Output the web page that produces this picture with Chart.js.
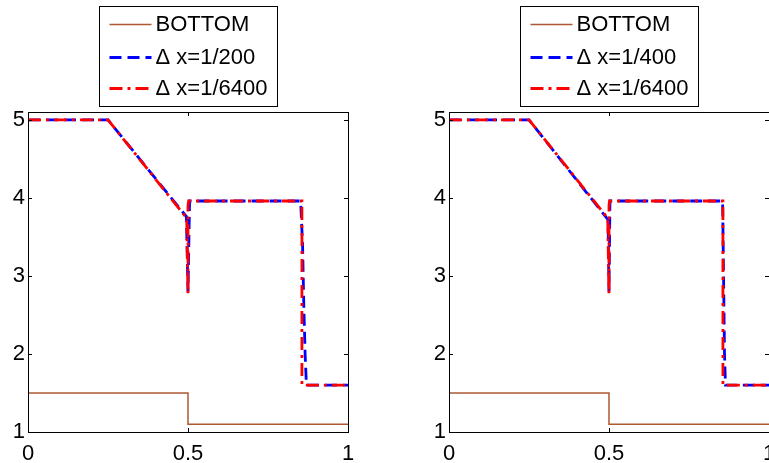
<!DOCTYPE html>
<html>
<head>
<meta charset="utf-8">
<script src="https://cdn.jsdelivr.net/npm/chart.js@4.4.1/dist/chart.umd.min.js"></script>
<style>
  html, body { margin: 0; padding: 0; background: #fff; overflow: hidden; }
  body { width: 769px; height: 463px; position: relative; }
  .panel { position: absolute; top: 0; width: 390px; height: 463px; }
  #left { left: 0; }
  #right { left: 421px; }
</style>
</head>
<body>
<div class="panel" id="left"><canvas id="leftChart"></canvas></div>
<div class="panel" id="right"><canvas id="rightChart"></canvas></div>
<script>
// Axis ticks
const xTicks = [0, 0.5, 1];
const yTicks = [1, 2, 3, 4, 5];

// Bottom topography (same in both panels)
const bottomX = [0, 0.5, 0.5, 1];
const bottomY = [1.5, 1.5, 1.1, 1.1];

// Reference solution, dx = 1/6400
const fineX = [0, 0.25, 0.496, 0.5, 0.5, 0.502, 0.856, 0.856, 1];
const fineY = [5, 5, 3.74, 2.77, 3.9, 3.96, 3.96, 1.6, 1.6];

// Coarse solution, dx = 1/200
const coarse200X = [0, 0.25, 0.495, 0.5, 0.505, 0.852, 0.858, 0.862, 0.866, 0.87, 1];
const coarse200Y = [5, 5, 3.76, 2.8, 3.96, 3.96, 3.4, 2.6, 2.0, 1.6, 1.6];

// Coarse solution, dx = 1/400
const coarse400X = [0, 0.25, 0.497, 0.5, 0.503, 0.855, 0.858, 0.861, 0.864, 1];
const coarse400Y = [5, 5, 3.72, 2.8, 3.96, 3.96, 3.0, 2.0, 1.6, 1.6];

const FONT = '"Liberation Sans", Arial, sans-serif';

const toPoints = (xs, ys) => xs.map((x, i) => ({ x: x, y: ys[i] }));

// Box around the axes, inward ticks on all sides, and a framed legend
const frameAndLegend = {
    id: 'frameAndLegend',
    afterDatasetsDraw(chart) {
        const ctx = chart.ctx;
        const a = chart.chartArea;
        const xs = chart.scales.x, ys = chart.scales.y;
        ctx.save();
        ctx.strokeStyle = '#000';
        ctx.lineWidth = 1;
        ctx.setLineDash([]);
        ctx.strokeRect(Math.round(a.left) + 0.5, Math.round(a.top) + 0.5,
            Math.round(a.right - a.left), Math.round(a.bottom - a.top));
        ctx.beginPath();
        xs.ticks.forEach(t => {
            const p = Math.round(xs.getPixelForValue(t.value)) + 0.5;
            ctx.moveTo(p, a.bottom); ctx.lineTo(p, a.bottom - 4);
            ctx.moveTo(p, a.top); ctx.lineTo(p, a.top + 4);
        });
        ys.ticks.forEach(t => {
            const p = Math.round(ys.getPixelForValue(t.value)) + 0.5;
            ctx.moveTo(a.left, p); ctx.lineTo(a.left + 4, p);
            ctx.moveTo(a.right, p); ctx.lineTo(a.right - 4, p);
        });
        ctx.stroke();

        // legend
        const w = 178, h = 100;
        const bx = Math.round((a.left + a.right) / 2 - w / 2) + 0.5;
        const by = 6.5;
        ctx.fillStyle = '#fff';
        ctx.fillRect(bx, by, w, h);
        ctx.strokeRect(bx, by, w, h);
        const rows = [24, 57, 88];
        ctx.font = '22px ' + FONT;
        ctx.textBaseline = 'middle';
        ctx.textAlign = 'left';
        chart.data.datasets.forEach((ds, i) => {
            const y = rows[i] + 0.5;
            ctx.beginPath();
            ctx.strokeStyle = ds.borderColor;
            ctx.lineWidth = ds.borderWidth;
            ctx.setLineDash(ds.borderDash || []);
            ctx.moveTo(bx + 10, y);
            ctx.lineTo(bx + 52, y);
            ctx.stroke();
            ctx.setLineDash([]);
            ctx.fillStyle = '#000';
            ctx.fillText(ds.label, bx + 56, rows[i] + 1);
        });
        ctx.restore();
    }
};

function makePanel(canvasId, coarseLabel, coarseX, coarseY) {
    const ctx = document.getElementById(canvasId).getContext('2d');
    return new Chart(ctx, {
        type: 'scatter',
        data: {
            datasets: [{
                label: 'BOTTOM',
                data: toPoints(bottomX, bottomY),
                borderColor: '#ad5832',
                borderWidth: 1.5,
                order: 2
            }, {
                label: coarseLabel,
                data: toPoints(coarseX, coarseY),
                borderColor: '#0000ff',
                borderWidth: 2.8,
                borderDash: [12, 6],
                order: 1
            }, {
                label: 'Δ x=1/6400',
                data: toPoints(fineX, fineY),
                borderColor: '#ff0000',
                borderWidth: 2.8,
                borderDash: [13, 5, 3, 5],
                order: 0
            }]
        },
        options: {
            responsive: true,
            maintainAspectRatio: false,
            animation: false,
            showLine: true,
            elements: {
                point: { radius: 0, hoverRadius: 0 },
                line: { tension: 0, fill: false, borderCapStyle: 'butt' }
            },
            layout: { padding: { left: 0, right: 42, top: 112, bottom: 0 } },
            scales: {
                x: {
                    type: 'linear',
                    min: 0,
                    max: 1,
                    afterBuildTicks: s => { s.ticks = xTicks.map(v => ({ value: v })); },
                    afterFit: s => { s.height = 31; },
                    grid: { display: false, drawTicks: false },
                    border: { display: false },
                    ticks: {
                        padding: 9,
                        color: '#000',
                        font: { family: FONT, size: 22 },
                        maxRotation: 0,
                        callback: v => String(v)
                    }
                },
                y: {
                    type: 'linear',
                    min: 1,
                    max: 5.1,
                    afterBuildTicks: s => { s.ticks = yTicks.map(v => ({ value: v })); },
                    afterFit: s => { s.width = 28; },
                    grid: { display: false, drawTicks: false },
                    border: { display: false },
                    ticks: {
                        padding: 3,
                        color: '#000',
                        font: { family: FONT, size: 22 },
                        callback: v => String(v)
                    }
                }
            },
            plugins: {
                legend: { display: false },
                tooltip: { enabled: false }
            }
        },
        plugins: [frameAndLegend]
    });
}

const leftChart = makePanel('leftChart', 'Δ x=1/200', coarse200X, coarse200Y);
const rightChart = makePanel('rightChart', 'Δ x=1/400', coarse400X, coarse400Y);
</script>
</body>
</html>
